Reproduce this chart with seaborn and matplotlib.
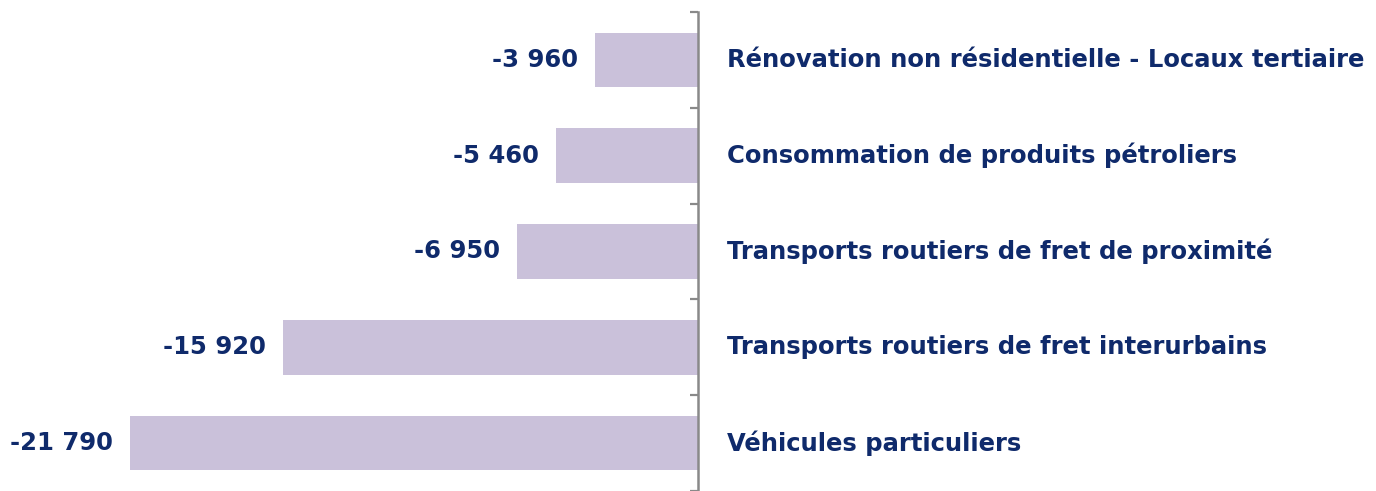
import matplotlib
matplotlib.use("Agg")
import matplotlib.pyplot as plt
import seaborn as sns
import pandas as pd

categories = [
    "Rénovation non résidentielle - Locaux tertiaire",
    "Consommation de produits pétroliers",
    "Transports routiers de fret de proximité",
    "Transports routiers de fret interurbains",
    "Véhicules particuliers",
]
values = [-3960, -5460, -6950, -15920, -21790]
value_labels = ["-3 960", "-5 460", "-6 950", "-15 920", "-21 790"]

sns.set_theme(style="white")
plt.rcParams["font.family"] = ["DejaVu Sans"]

bar_color = "#CAC1DA"
text_color = "#0F2A6B"
axis_color = "#898989"

df = pd.DataFrame({"cat": categories, "val": values})

W, H = 1376, 491
fig = plt.figure(figsize=(W / 100, H / 100), dpi=100)
ax_left = 130 / W
ax_right = 698 / W
ax = fig.add_axes([ax_left, 0.0, ax_right - ax_left, 1 - 12 / H])

sns.barplot(data=df, x="val", y="cat", orient="h", color=bar_color,
            width=0.57, ax=ax, saturation=1, linewidth=0)

ax.set_xlim(min(values), 0)
ax.set_ylim(len(categories) - 0.5, -0.5)
ax.set_xlabel("")
ax.set_ylabel("")
ax.set_xticks([])
for s in ["top", "bottom", "left"]:
    ax.spines[s].set_visible(False)
ax.spines["right"].set_visible(True)
ax.spines["right"].set_color(axis_color)
ax.spines["right"].set_linewidth(1.8)
ax.yaxis.tick_right()
ax.set_yticks([i - 0.5 for i in range(len(categories) + 1)])
ax.set_yticklabels([])
ax.tick_params(axis="y", which="both", direction="in", length=6, width=1.6,
               color=axis_color, right=True, left=False)

for i, (cat, v, lab) in enumerate(zip(categories, values, value_labels)):
    ax.annotate(lab, xy=(v, i), xytext=(-12, 0), textcoords="offset points",
                ha="right", va="center", fontsize=17.5, fontweight="bold",
                color=text_color, annotation_clip=False)
    ax.annotate(cat, xy=(0, i), xytext=(21, 0), textcoords="offset points",
                ha="left", va="center", fontsize=17.5, fontweight="bold",
                color=text_color, annotation_clip=False)

fig.savefig("out.png", dpi=100)
